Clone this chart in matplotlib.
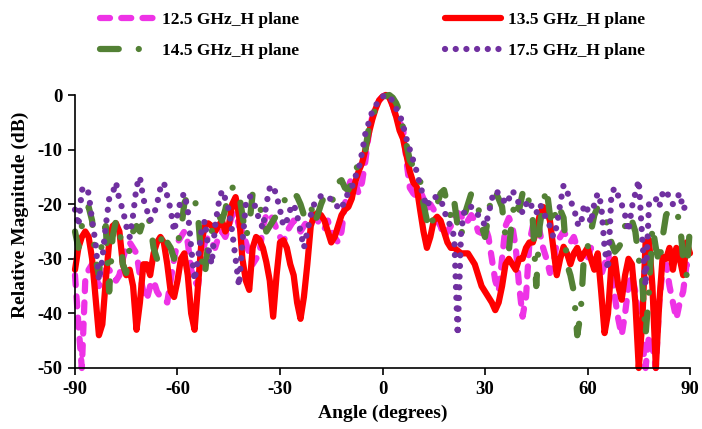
import numpy as np
import matplotlib
matplotlib.use('Agg')
import matplotlib.pyplot as plt

plt.rcParams['font.family'] = 'Liberation Serif'
plt.rcParams['font.weight'] = 'bold'
plt.rcParams['axes.unicode_minus'] = False

# H-plane patterns, 1 degree steps from -90 to 90
angles = np.arange(-90, 91)

h125 = [-33, -42, -50, -34, -32, -31, -33, -35, -34, -32,
        -32, -33, -34, -33, -30, -28, -27, -28, -29, -33,
        -36, -37.5, -35, -34, -36, -37, -37.5, -38, -34, -30,
        -27, -26, -25, -27, -32, -34, -35, -30, -27, -26,
        -27, -28, -26, -25, -26, -24, -22, -21.6, -24, -25,
        -27, -29, -31, -30, -29, -24, -22, -21.6, -23, -24.5,
        -26, -27, -25, -24, -23, -24, -25, -24, -23, -22,
        -22, -23, -24, -24.6, -23, -25, -26, -27, -25, -20,
        -17, -15, -16, -18, -16, -12, -7, -4, -2, -1,
        -0.3, 0, -0.5, -2, -4, -5, -6, -12, -17, -18,
        -18.6, -17.5, -19, -21, -20, -21, -23, -24, -26, -25,
        -24, -22, -21.6, -22, -23.5, -23, -22, -23, -25, -25.3,
        -24, -26, -30, -34, -36, -30, -24, -22.5, -24, -28,
        -35, -40.6, -37, -27, -24, -23, -25, -28, -30, -32.6,
        -31, -27, -26, -25, -26, -27, -26, -28, -30, -29,
        -30, -28, -29, -32, -33, -31, -29, -32, -37, -41,
        -44, -40, -35, -33, -36, -41, -45, -50, -44, -46,
        -50, -38, -32, -31, -35, -38, -41, -38, -36, -31, -33]

h135 = [-32, -28, -26, -25, -26, -30, -37, -44, -42, -34,
        -27, -24, -23.5, -25, -31, -33, -32, -35, -43, -38,
        -31, -31, -33, -29, -27, -26, -27, -31, -36, -37,
        -34, -30, -29, -33, -40, -43, -35, -27, -24, -23.5,
        -24, -25, -24, -23, -25, -24, -20, -18.7, -22, -30,
        -34, -35.7, -28, -26, -26.5, -28, -30.6, -34, -40.6, -33,
        -27, -26.6, -28, -31, -33, -38, -41, -37, -31, -24,
        -22, -21.6, -22, -23, -25, -27, -26, -24, -22, -21,
        -20.5, -19, -16, -14, -12.5, -10, -7, -4.5, -2.5, -1,
        -0.3, 0, -0.5, -2, -4, -6.5, -8, -11, -14, -16,
        -16.8, -21, -25, -28, -26, -23, -22.3, -23, -25, -27,
        -28, -28, -28.5, -29, -29, -29, -30, -31, -33, -35,
        -36, -37, -38, -39.4, -38, -35, -31, -30, -31, -32,
        -30, -30, -28, -27, -27, -25, -22, -20.5, -21, -23,
        -28, -33, -30, -27.8, -29, -31, -29, -28, -30, -29,
        -28, -30, -32, -29, -36, -43.6, -40, -31, -30, -35,
        -37.5, -33, -30, -31, -38, -50, -42, -27, -26.5, -35,
        -50, -38, -29.6, -30, -28, -32, -28, -30, -33, -27, -29]

h145 = [-25, -28, -24, -22, -20.5, -23, -30, -33, -26, -24,
        -36, -26, -23, -24, -31, -32.6, -28, -25, -24, -25,
        -23, -21.8, -23.5, -28, -30, -27, -25, -27, -28, -30,
        -27, -25, -19.8, -18.5, -18, -19, -22, -30, -33, -27,
        -25, -23, -22, -23, -21, -18, -17, -16.8, -18, -22,
        -26, -24, -18, -19, -20.5, -22, -25, -24, -23, -22,
        -21, -20, -18, -17.5, -18, -18.6, -20, -22, -21, -20,
        -23.5, -22, -20, -18.5, -19, -20, -18, -16, -15.6, -17,
        -17.4, -16, -14, -12.5, -11, -10, -6, -4, -2.5, -1.2,
        -0.5, -0.2, 0, -0.5, -1.5, -3, -6, -9, -12, -13,
        -14, -15.6, -20, -23, -24.7, -22, -20, -18, -17.4, -20,
        -22.3, -19.5, -24, -26, -22, -20, -18, -19, -20.5, -24,
        -26, -22, -18, -17.7, -19, -20.5, -26, -28.4, -22, -19,
        -21, -18, -17, -20, -23, -35, -24, -20, -17, -22,
        -24, -20, -21, -22.5, -31, -33, -36, -44, -40, -29,
        -28, -25, -22, -20.5, -21, -22.3, -24, -27, -28.7, -28,
        -27, -24, -22, -23, -25, -30, -34, -44, -36, -24,
        -28, -31, -26, -22, -21, -22, -21.6, -23, -30, -33, -24]

h175 = [-21, -24, -17.4, -16.8, -18, -23, -27, -34, -30, -24,
        -19, -18, -16, -19.3, -21, -24, -26, -22, -16.8, -15,
        -19, -21, -23, -22, -20, -17, -16, -18.5, -21, -25,
        -22, -19, -18, -21, -28, -34, -30, -25, -23, -28,
        -31, -24, -20, -17.5, -19, -21, -25, -30, -35, -27,
        -20, -18.5, -19, -21, -23, -24.4, -20, -17, -16.6, -18.5,
        -21, -24, -23, -21, -20, -22, -25, -28, -25, -22,
        -20, -19, -18.5, -18.5, -19, -19, -20, -20.5, -21, -19,
        -18, -17, -15, -13.7, -10.6, -7, -5, -3, -2, -0.8,
        -0.3, 0, -0.2, -1.2, -2.5, -3.5, -5.5, -8, -10, -12,
        -14, -16.5, -18.6, -20.5, -19, -18.6, -18.8, -19, -21, -23,
        -24, -26, -44, -25, -21, -20.5, -20.5, -21, -22, -22.6,
        -24, -22, -19, -17.5, -18, -18.6, -20, -19, -17.5, -18.5,
        -20, -21.6, -20, -19.3, -21, -21.7, -20, -21, -23, -24,
        -26, -24, -20, -16.5, -17.6, -19.5, -20.5, -23.5, -24, -20,
        -21, -23.5, -19.8, -18, -20, -28, -32, -18, -17, -18.5,
        -20, -22, -25, -20.5, -18, -15.6, -26, -35, -20, -19,
        -19, -20.5, -18, -17.4, -19, -20, -19, -18, -21, -20, -19]

labels = ['12.5 GHz_H plane', '14.5 GHz_H plane', '13.5 GHz_H plane', '17.5 GHz_H plane']

fig = plt.figure(figsize=(7.02, 4.29), dpi=100)
ax = fig.add_axes([75 / 702, 1 - 368 / 429, 615 / 702, 273 / 429])

lw = 4.5
l125, = ax.plot(angles, h125, color='#EE33E6', lw=lw, dashes=(1.6, 1.8),
                dash_capstyle='round', clip_on=False)
l135, = ax.plot(angles, h135, color='#FF0000', lw=lw,
                solid_capstyle='round', solid_joinstyle='round', clip_on=False)
l145, = ax.plot(angles, h145, color='#538135', lw=lw, dashes=(3, 3.2, 0.01, 3.2),
                dash_capstyle='round', clip_on=False)
l175, = ax.plot(angles, h175, color='#7030A0', lw=lw, dashes=(0.01, 1.7),
                dash_capstyle='round', clip_on=False)

ax.set_xlim(-90, 90)
ax.set_ylim(-50, 0)
ax.set_xticks([-90, -60, -30, 0, 30, 60, 90])
ax.set_yticks([0, -10, -20, -30, -40, -50])
ax.spines['top'].set_visible(False)
ax.spines['right'].set_visible(False)
for s in ('left', 'bottom'):
    ax.spines[s].set_linewidth(1.2)
ax.tick_params(direction='out', length=5, width=1.2, labelsize=13.5, pad=4)

fig.text(383 / 702, 1 - 413 / 429, 'Angle (degrees)', ha='center', va='center', fontsize=14)
fig.text(20 / 702, 1 - 215 / 429, 'Relative Magnitude (dB)', ha='center', va='center',
         rotation=90, fontsize=14)

fig.legend([l125, l145, l135, l175], labels, loc='upper left',
           bbox_to_anchor=(84 / 702, 1 + 4 / 429), ncol=2, frameon=False,
           fontsize=12.5, handlelength=3.2, handletextpad=0.4,
           columnspacing=8.4, labelspacing=0.85)

fig.savefig('out.png', dpi=100)
